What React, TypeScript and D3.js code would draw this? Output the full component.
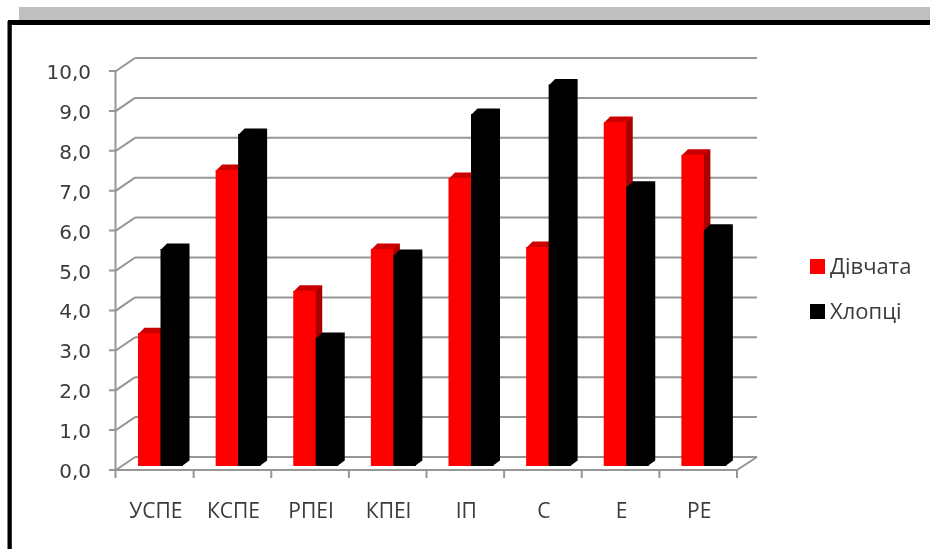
import React from "react";
import * as d3 from "d3";

const categories = ["УСПЕ", "КСПЕ", "РПЕІ", "КПЕІ", "ІП", "С", "Е", "РЕ"];
const girls = [3.33, 7.42, 4.39, 5.44, 7.22, 5.49, 8.62, 7.8];
const boys = [5.44, 8.32, 3.21, 5.29, 8.82, 9.56, 7.0, 5.92];
const yTicks = [0, 1, 2, 3, 4, 5, 6, 7, 8, 9, 10];
const seriesNames = ["Дівчата", "Хлопці"];

const W = 930, H = 549;
const FONT = "'Open Sans', 'Noto Sans', sans-serif";
const NUMFONT = "'DejaVu Sans', sans-serif";
const GRID = "#969696";
const TEXT = "#3a3a3a";

const x = d3.scaleBand<string>().domain(categories).range([116, 737]).paddingInner(0).paddingOuter(0);
const y = d3.scaleLinear().domain([0, 10]).range([470, 71]);
const wallDx = 19, wallDy = -13;
const barOffY = -4, sideDx = 6.5, sideDy = -5.5;
const barL = 22, barW = 22.5;

function bar(i: number, s: number, v: number, col: string, side: string, top: string) {
  const x0 = x(categories[i])! + barL + s * barW;
  const x1 = x0 + barW;
  const yB = y(0) + barOffY, yT = y(v) + barOffY;
  const line = d3.line();
  return (
    <g key={`${s}-${i}`}>
      <path d={line([[x1 - 1, yT], [x1 + sideDx, yT + sideDy], [x1 + sideDx, yB + sideDy], [x1 - 1, yB]])! + "Z"} fill={side} />
      <path d={line([[x0, yT + 1], [x0 + sideDx, yT + sideDy], [x1 + sideDx, yT + sideDy], [x1, yT + 1]])! + "Z"} fill={top} />
      <rect x={x0} y={yT} width={barW} height={yB - yT} fill={col} />
    </g>
  );
}

export default function App() {
  const xs = [...categories.map((c) => x(c)!), 737];
  return (
    <svg width={W} height={H} viewBox={`0 0 ${W} ${H}`} style={{ position: "absolute", left: 0, top: 0, display: "block", background: "#fff" }}>
      <defs>
        <filter id="soft" x="-2%" y="-2%" width="104%" height="104%">
          <feGaussianBlur stdDeviation="0.5" />
        </filter>
      </defs>
      <g filter="url(#soft)">
        <rect x={19} y={7} width={911} height={13} fill="#bfbfbf" />
        <rect x={8} y={20} width={930} height={5} fill="#000" />
        <rect x={7.5} y={21} width={4.3} height={540} fill="#000" />

        {yTicks.map((t) => (
          <g key={t} stroke={GRID} strokeWidth={2} fill="none">
            <path d={`M${116 + wallDx} ${y(t) + wallDy}H757`} />
            <path d={`M109 ${y(t)}H116L${116 + wallDx} ${y(t) + wallDy}`} />
          </g>
        ))}
        <path d={`M115.5 ${y(10)}V${y(0)}`} stroke={GRID} strokeWidth={2} fill="none" />
        <path d={`M116 ${y(0)}H737L757 ${y(0) + wallDy}`} stroke={GRID} strokeWidth={2} fill="none" />
        {xs.map((p, i) => (
          <path key={i} d={`M${p - (i === 0 ? 0.5 : 0)} ${y(0)}v8`} stroke={GRID} strokeWidth={2} fill="none" />
        ))}

        {categories.map((_, i) => bar(i, 0, girls[i], "#ff0000", "#a80000", "#cc0000"))}
        {categories.map((_, i) => bar(i, 1, boys[i], "#000000", "#000000", "#000000"))}

        {yTicks.map((t) => (
          <text key={t} x={91} y={y(t) + 8} textAnchor="end" fontFamily={NUMFONT} fontSize={20} fill={TEXT}>
            {t.toFixed(1).replace(".", ",")}
          </text>
        ))}
        {categories.map((c) => (
          <text key={c} x={x(c)! + x.bandwidth() / 2 + 1} y={518} textAnchor="middle" fontFamily={FONT} fontSize={21} fill={TEXT}>
            {c}
          </text>
        ))}

        {seriesNames.map((n, i) => (
          <g key={n}>
            <rect x={810} y={259 + i * 45} width={15} height={15} fill={i === 0 ? "#ff0000" : "#000000"} />
            <text x={830} y={274 + i * 45} fontFamily={FONT} fontSize={22} fill={TEXT}>{n}</text>
          </g>
        ))}
      </g>
    </svg>
  );
}
